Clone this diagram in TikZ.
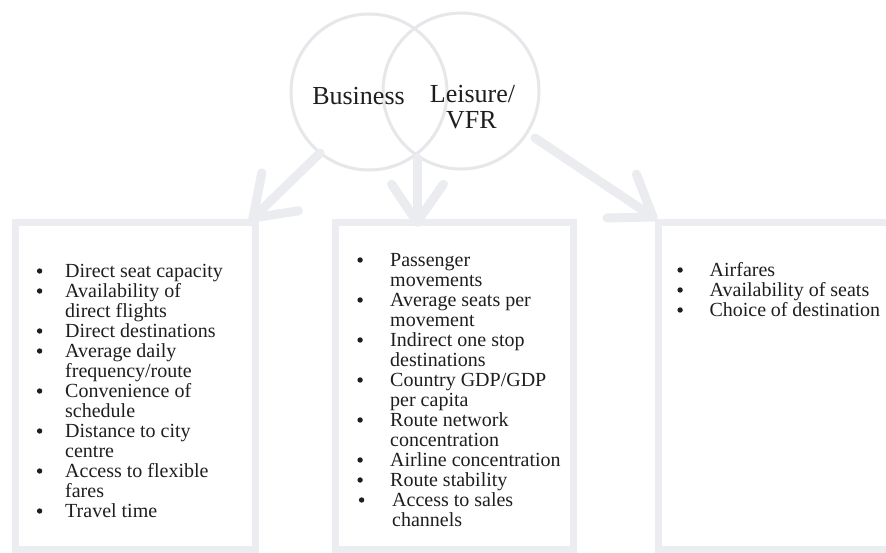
\documentclass[tikz,border=0pt]{standalone}
\usepackage{fontspec}
\setmainfont{Liberation Serif}
\definecolor{boxgray}{HTML}{ECEDF0}
\definecolor{arrgray}{HTML}{EBECEF}
\definecolor{circgray}{HTML}{E6E7EA}
\definecolor{txt}{HTML}{1E1E1E}
\newcommand{\bul}[1][30.5pt]{\makebox[#1][l]{\hspace*{2.2pt}\tikz[baseline=0pt]\fill[txt] (0pt,6pt) circle[radius=2.7pt];}}
\newcommand{\ind}[1][30.5pt]{\hspace*{#1}}
\begin{document}
\begin{tikzpicture}[x=1pt,y=-1pt,
  panel/.style={draw=boxgray, line width=7pt, inner sep=0pt, outer sep=0pt, rectangle},
  venn/.style={draw=circgray, line width=3pt, circle, inner sep=0pt, outer sep=0pt, minimum size=156pt},
  arrline/.style={draw=arrgray, line width=9pt, line cap=round, line join=round},
  lbl/.style={text=txt, inner sep=0pt, font=\fontsize{26}{26}\selectfont},
  lst/.style={text=txt, inner sep=0pt, anchor=base west, font=\fontsize{20}{20}\selectfont}]
\useasboundingbox (0,0) rectangle (886,552);
\clip (0,0) rectangle (886,552);
\fill[white] (0,0) rectangle (886,552);

% boxes
\node[panel, minimum width=240pt, minimum height=327pt] (b1) at (135,385.5) {};
\node[panel, minimum width=238pt, minimum height=327pt] (b2) at (454,385.5) {};
\node[panel, minimum width=242pt, minimum height=327pt] (b3) at (779,385.5) {};

% circles
\node[venn] (c1) at (369,92) {};
\node[venn] (c2) at (461,91) {};

% arrows
\coordinate (s1) at (320,153);
\coordinate (t1) at (253,218);
\coordinate (a1) at (261.8,172.8);
\coordinate (a2) at (298.4,210.8);
\coordinate (s2) at (417,158);
\coordinate (t2) at (417,222);
\coordinate (a3) at (391.6,184.3);
\coordinate (a4) at (443.4,184.3);
\coordinate (s3) at (535,138);
\coordinate (t3) at (653,217);
\coordinate (a5) at (636.4,174.1);
\coordinate (a6) at (607,218);
\draw[arrline] (s1) -- (t1);
\draw[arrline] (a1) -- (t1) -- (a2);
\draw[arrline] (s2) -- (t2);
\draw[arrline] (a3) -- (t2) -- (a4);
\draw[arrline] (s3) -- (t3);
\draw[arrline] (a5) -- (t3) -- (a6);

% circle labels
\node[lbl, anchor=base] (bus) at (358.5,104) {Business};
\node[lbl, anchor=base] (lei) at (472.5,102) {Leisure/};
\node[lbl, anchor=base] (vfr) at (471.5,128) {VFR};

% lists
\node[lst] (l1) at (34.5,277) {\begin{minipage}[t]{215pt}\raggedright
\bul Direct seat capacity\\
\bul Availability of\\
\ind direct flights\\
\bul Direct destinations\\
\bul Average daily\\
\ind frequency/route\\
\bul Convenience of\\
\ind schedule\\
\bul Distance to city\\
\ind centre\\
\bul Access to flexible\\
\ind fares\\
\bul Travel time
\end{minipage}};

\node[lst] (l2) at (355,266) {\begin{minipage}[t]{215pt}\raggedright
\bul[30pt] Passenger\\
\ind[30pt] movements\\
\bul[30pt] Average seats per\\
\ind[30pt] movement\\
\bul[30pt] Indirect one stop\\
\ind[30pt] destinations\\
\bul[30pt] Country GDP/GDP\\
\ind[30pt] per capita\\
\bul[30pt] Route network\\
\ind[30pt] concentration\\
\bul[30pt] Airline concentration\\
\bul[30pt] Route stability\\
\hspace*{1.5pt}\bul[30.5pt] Access to sales\\
\ind[32pt] channels
\end{minipage}};

\node[lst] (l3) at (675,276) {\begin{minipage}[t]{205pt}\raggedright
\bul[29.5pt] Airfares\\
\bul[29.5pt] Availability of seats\\
\bul[29.5pt] Choice of destination
\end{minipage}};
\end{tikzpicture}
\end{document}
